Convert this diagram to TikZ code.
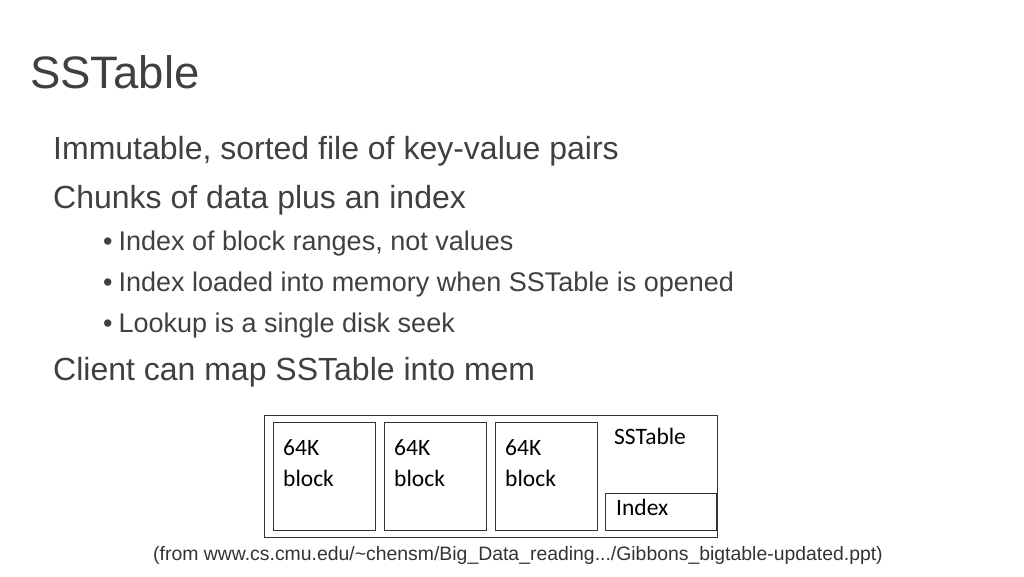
\documentclass[tikz,border=0pt]{standalone}
\usepackage{fontspec}
\setmainfont{Liberation Sans}
\newfontfamily\carlitofont{Carlito}
\begin{document}
\begin{tikzpicture}[x=1pt,y=-1pt,
  txt/.style={anchor=base west,inner sep=0,text=black!75},
  blk/.style={draw=black!80,line width=0.8pt},
  ctxt/.style={anchor=north west,inner sep=0,font=\carlitofont\fontsize{23.5}{31}\selectfont,align=left}]
\useasboundingbox (0,0) rectangle (1024,576);
\node[txt,font=\fontsize{45.5}{50}\selectfont] (title) at (30,88) {SSTable};
\node[txt,font=\fontsize{32}{36}\selectfont] (l1) at (53,159) {Immutable, sorted file of key-value pairs};
\node[txt,font=\fontsize{32}{36}\selectfont] (l2) at (53,208) {Chunks of data plus an index};
\node[txt,font=\fontsize{27}{30}\selectfont] (b1) at (103,250) {\textbullet\hspace{6pt}Index of block ranges, not values};
\node[txt,font=\fontsize{27}{30}\selectfont] (b2) at (103,291) {\textbullet\hspace{6pt}Index loaded into memory when SSTable is opened};
\node[txt,font=\fontsize{27}{30}\selectfont] (b3) at (103,332) {\textbullet\hspace{6pt}Lookup is a single disk seek};
\node[txt,font=\fontsize{32}{36}\selectfont] (l3) at (53,380) {Client can map SSTable into mem};
\draw[blk] (264,415) rectangle (717,537);
\draw[blk] (273,422) rectangle (375,530);
\draw[blk] (384,422) rectangle (486,530);
\draw[blk] (495,422) rectangle (597,530);
\draw[blk] (605,493) rectangle (716,530);
\node[ctxt] (k1) at (283,439) {64K\\block};
\node[ctxt] (k2) at (394,439) {64K\\block};
\node[ctxt] (k3) at (505,439) {64K\\block};
\node[ctxt] (ss) at (614,428) {SSTable};
\node[ctxt] (ix) at (616,499) {Index};
\node[inner sep=0,anchor=base,font=\fontsize{19.4}{22}\selectfont,text=black!80] (cite) at (518,560) {(from www.cs.cmu.edu/\textasciitilde chensm/Big\_Data\_reading.../Gibbons\_bigtable-updated.ppt)};
\end{tikzpicture}
\end{document}
